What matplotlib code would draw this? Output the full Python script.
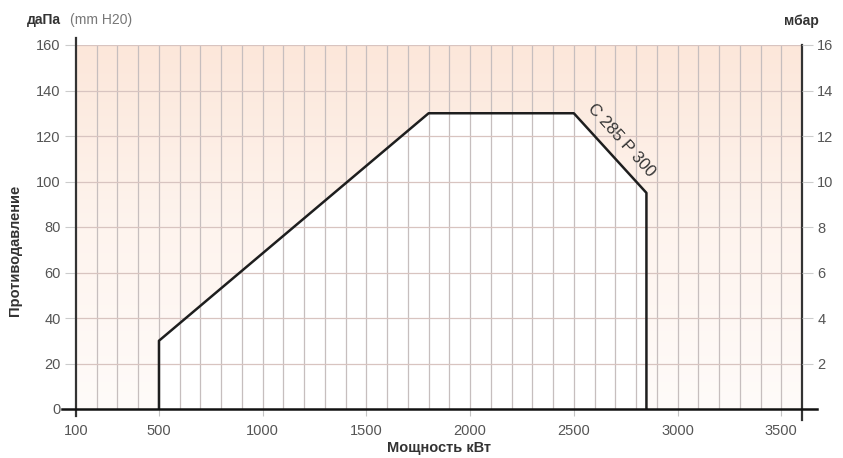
import numpy as np
import matplotlib.pyplot as plt
from matplotlib.colors import LinearSegmentedColormap

plt.rcParams['font.family'] = ['Liberation Sans', 'DejaVu Sans']

# working field of the burner (kW vs daPa)
power = [500, 500, 1800, 2500, 2850, 2850]
pressure = [0, 30, 130, 130, 95, 0]

xticks = [100, 500, 1000, 1500, 2000, 2500, 3000, 3500]
yticks = [0, 20, 40, 60, 80, 100, 120, 140, 160]
mbar_ticks = [2, 4, 6, 8, 10, 12, 14, 16]
model_label = 'C 285 P 300'

fig = plt.figure(figsize=(8.43, 4.58), dpi=100)
ax = fig.add_axes([76/843, 1-409/458, (802-76)/843, (409-45)/458])
ax.set_xlim(100, 3600)
ax.set_ylim(0, 160)

# peach gradient background, white inside the envelope
cmap = LinearSegmentedColormap.from_list('bg', ['#fffbf9', '#fef4ee', '#fce7da'])
grad = np.linspace(0, 1, 256).reshape(-1, 1)
ax.imshow(grad, cmap=cmap, origin='lower', aspect='auto',
          extent=(100, 3600, 0, 160), zorder=0)
ax.fill(power, pressure, color='white', zorder=1)

# grid
for xv in np.arange(200, 3600, 100):
    ax.axvline(xv, color='#c6bebe', lw=0.9, zorder=1.5)
for yv in yticks[1:]:
    ax.axhline(yv, color='#d8c4c0', lw=0.9, zorder=1.5)

ax.plot(power, pressure, color='#1e1e1e', lw=1.8, zorder=3)
ax.text(2728, 118, model_label, rotation=-48, ha='center', va='center',
        fontsize=12, color='#333333', zorder=4)

# spines drawn by hand so they overhang like the original
for s in ax.spines.values():
    s.set_visible(False)
ax.plot([0, 0], [-0.02, 1.02], transform=ax.transAxes, color='#333333',
        lw=1.6, clip_on=False, zorder=5)
ax.plot([1, 1], [-0.03, 1.0], transform=ax.transAxes, color='#333333',
        lw=1.6, clip_on=False, zorder=5)
ax.plot([-0.019, 1.02], [0, 0], transform=ax.transAxes, color='#111111',
        lw=1.8, clip_on=False, zorder=5)

ax.set_xticks(xticks)
ax.set_yticks(yticks)
ax.tick_params(axis='x', direction='out', length=5, width=0.8, color='#c4c4c4',
               pad=6, labelsize=10.5, labelcolor='#555555')
ax.tick_params(axis='y', direction='out', length=8, width=0.8, color='#cccccc',
               pad=3, labelsize=10.5, labelcolor='#555555')

ax2 = ax.twinx()
ax2.set_ylim(0, 16)
ax2.set_yticks(mbar_ticks)
for s in ax2.spines.values():
    s.set_visible(False)
ax2.tick_params(axis='y', direction='out', length=8, width=0.8, color='#cccccc',
                pad=3, labelsize=10.5, labelcolor='#555555')

# axis titles
fig.text(27/843, 1-20/458, 'даПа', fontsize=10, fontweight='bold',
         color='#333333', va='center', ha='left')
fig.text(70/843, 1-20/458, '(mm H20)', fontsize=10, color='#777777',
         va='center', ha='left')
fig.text(819/843, 1-21/458, 'мбар', fontsize=10, fontweight='bold',
         color='#333333', va='center', ha='right')
fig.text(15/843, 1-250/458, 'Противодавление', rotation=90, fontsize=10.5,
         fontweight='bold', color='#333333', va='center', ha='center')
fig.text(439/843, 1-448/458, 'Мощность кВт', fontsize=10.5, fontweight='bold',
         color='#333333', va='center', ha='center')

fig.savefig('out.png', dpi=100)
